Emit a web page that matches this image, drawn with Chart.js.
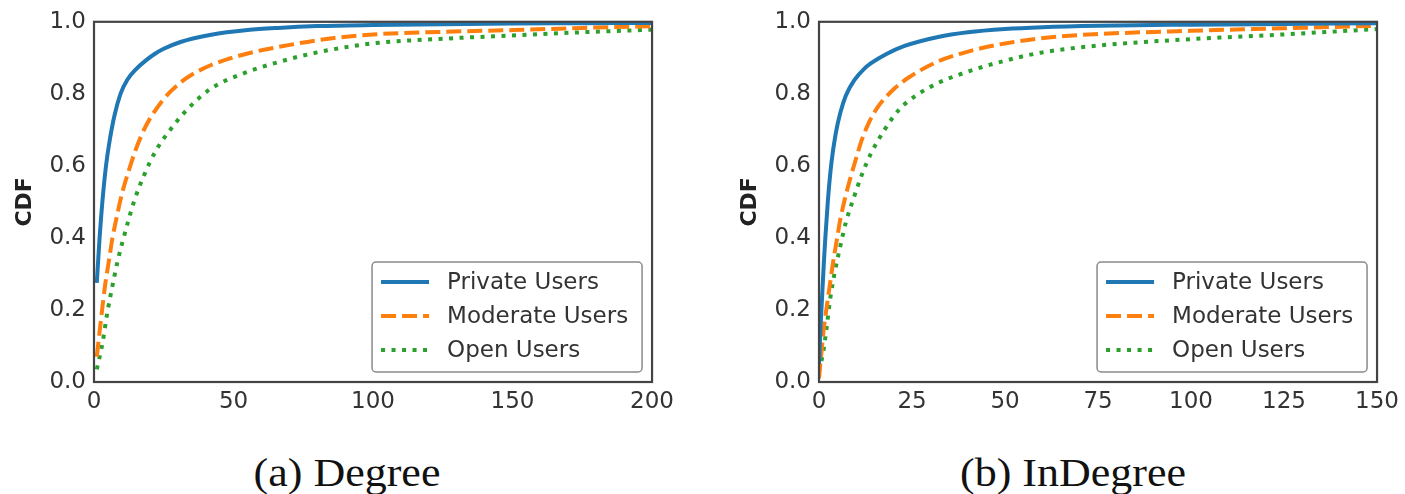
<!DOCTYPE html>
<html>
<head>
<meta charset="utf-8">
<script src="https://cdn.jsdelivr.net/npm/chart.js@4.4.1/dist/chart.umd.min.js"></script>
<style>
  body { margin: 0; background: #fff; width: 1405px; height: 494px; position: relative; overflow: hidden; }
  canvas { position: absolute; top: 0; }
  #chart-degree { left: 0; }
  #chart-indegree { left: 725px; }
  .caption {
    position: absolute; top: 449px; width: 400px; text-align: center;
    font-family: "Liberation Serif", "Times New Roman", serif; font-size: 40px; color: #111;
    transform: scaleX(1.1);
  }
</style>
</head>
<body>
<canvas id="chart-degree" width="680" height="420"></canvas>
<canvas id="chart-indegree" width="680" height="420"></canvas>
<div class="caption" style="left:147px">(a) Degree</div>
<div class="caption" style="left:873px">(b) InDegree</div>
<script>
/* ── data ── */
const SERIES_NAMES = ['Private Users', 'Moderate Users', 'Open Users'];
const SERIES_COLORS = ['#1f77b4', '#ff7f0e', '#2ca02c'];
const SERIES_DASH = [[], [15, 6], [4, 6.5]];

const Y_TICKS = [0, 0.2, 0.4, 0.6, 0.8, 1.0];
const DEGREE_X_TICKS = [0, 50, 100, 150, 200];
const INDEGREE_X_TICKS = [0, 25, 50, 75, 100, 125, 150];

// (a) Degree
const DEG_PRIVATE_X  = [1, 2, 3, 4.3, 5.5, 7.4, 9.5, 12, 15, 18.6, 22, 25, 31, 42, 55, 66, 80, 100, 125, 150, 175, 200];
const DEG_PRIVATE_Y  = [0.275, 0.40, 0.50, 0.60, 0.665, 0.742, 0.80, 0.84, 0.868, 0.893, 0.912, 0.925, 0.944, 0.964, 0.977, 0.983, 0.988, 0.991, 0.993, 0.995, 0.996, 0.997];
const DEG_MODERATE_X = [1, 2.6, 4, 5.6, 6.5, 8.2, 10.1, 13, 14.9, 18.4, 24.6, 30.5, 35, 42, 54, 66, 84, 100, 125, 150, 175, 200];
const DEG_MODERATE_Y = [0.07, 0.18, 0.27, 0.349, 0.395, 0.46, 0.525, 0.6, 0.644, 0.708, 0.782, 0.828, 0.853, 0.88, 0.91, 0.93, 0.953, 0.965, 0.972, 0.977, 0.983, 0.988];
const DEG_OPEN_X     = [1, 3.1, 4.6, 6.4, 8.3, 10.6, 14.5, 18, 22, 27.6, 33.7, 42, 54, 66, 80, 100, 125, 150, 175, 200];
const DEG_OPEN_Y     = [0.035, 0.11, 0.185, 0.259, 0.33, 0.40, 0.505, 0.575, 0.64, 0.703, 0.759, 0.815, 0.858, 0.888, 0.915, 0.94, 0.953, 0.962, 0.971, 0.978];

// (b) InDegree
const INDEG_PRIVATE_X  = [0, 0.4, 0.8, 1.3, 1.7, 2.4, 3.3, 4.5, 5.8, 7.2, 9.5, 12, 14, 18, 23, 32, 40, 50, 60, 75, 100, 125, 150];
const INDEG_PRIVATE_Y  = [0.05, 0.15, 0.23, 0.33, 0.40, 0.505, 0.605, 0.69, 0.75, 0.795, 0.838, 0.868, 0.885, 0.91, 0.933, 0.958, 0.971, 0.98, 0.985, 0.989, 0.992, 0.994, 0.996];
const INDEG_MODERATE_X = [0, 1.2, 2.1, 3, 3.9, 4.8, 5.7, 7, 8.4, 10, 11.5, 13.5, 15.7, 20.2, 24.2, 32, 41, 50, 63, 75, 100, 125, 150];
const INDEG_MODERATE_Y = [0.01, 0.14, 0.21, 0.276, 0.34, 0.395, 0.45, 0.51, 0.565, 0.622, 0.672, 0.722, 0.762, 0.814, 0.846, 0.89, 0.92, 0.94, 0.958, 0.966, 0.975, 0.982, 0.989];
const INDEG_OPEN_X     = [0, 1.2, 2.1, 3, 4.2, 5.7, 7.3, 9.3, 11.5, 14, 17.6, 21.6, 26.2, 32, 41, 50, 60, 75, 100, 125, 150];
const INDEG_OPEN_Y     = [0.03, 0.087, 0.155, 0.23, 0.303, 0.376, 0.446, 0.51, 0.575, 0.635, 0.70, 0.757, 0.796, 0.83, 0.865, 0.892, 0.915, 0.934, 0.952, 0.965, 0.98];

/* ── helpers ── */
const FONT = 'DejaVu Sans';
const TEXT = '#333';

function points(xs, ys) {
  return xs.map((x, i) => ({ x, y: ys[i] }));
}

function makeDatasets(series) {
  return series.map(([xs, ys], i) => ({
    label: SERIES_NAMES[i],
    data: points(xs, ys),
    borderColor: SERIES_COLORS[i],
    borderDash: SERIES_DASH[i],
    borderWidth: 4,
    borderCapStyle: 'butt',
    pointRadius: 0,
    cubicInterpolationMode: 'monotone',
    fill: false,
  }));
}

// frame on all four sides, like matplotlib spines
const framePlugin = {
  id: 'frame',
  afterDatasetsDraw(chart) {
    const { ctx, chartArea: a } = chart;
    ctx.save();
    ctx.strokeStyle = '#444';
    ctx.lineWidth = 2.2;
    ctx.strokeRect(a.left, a.top, a.right - a.left, a.bottom - a.top);
    ctx.restore();
  },
};

// legend box in the lower right corner of the plot area
const boxLegendPlugin = {
  id: 'boxLegend',
  afterDraw(chart) {
    const { ctx, chartArea: a } = chart;
    const w = 270, h = 110;
    const left = a.right - 10 - w;
    const top = a.bottom - 10 - h;
    ctx.save();
    ctx.beginPath();
    ctx.roundRect(left, top, w, h, 4);
    ctx.fillStyle = 'rgba(255,255,255,0.9)';
    ctx.fill();
    ctx.strokeStyle = '#8a8a8a';
    ctx.lineWidth = 1.5;
    ctx.stroke();

    chart.data.datasets.forEach((ds, i) => {
      const y = top + 20 + i * 34;
      ctx.beginPath();
      ctx.setLineDash(ds.borderDash);
      ctx.strokeStyle = ds.borderColor;
      ctx.lineWidth = ds.borderWidth;
      ctx.lineCap = 'butt';
      ctx.moveTo(left + 9, y);
      ctx.lineTo(left + 57, y);
      ctx.stroke();
      ctx.setLineDash([]);
      ctx.fillStyle = TEXT;
      ctx.font = `23px "${FONT}"`;
      ctx.textBaseline = 'middle';
      ctx.fillText(ds.label, left + 75, y + 1);
    });
    ctx.restore();
  },
};

function renderCdf(canvasId, series, xMax, xTicks) {
  const canvas = document.getElementById(canvasId);
  return new Chart(canvas, {
    type: 'line',
    data: { datasets: makeDatasets(series) },
    options: {
      responsive: false,
      animation: false,
      devicePixelRatio: 1,
      layout: { padding: { left: 12, right: 25, top: 21, bottom: 0 } },
      plugins: { legend: { display: false }, tooltip: { enabled: false } },
      scales: {
        x: {
          type: 'linear',
          min: 0,
          max: xMax,
          grid: { display: false, drawTicks: false },
          border: { display: false },
          afterBuildTicks: s => { s.ticks = xTicks.map(v => ({ value: v })); },
          afterFit: s => { s.height = 38; },
          ticks: { color: TEXT, font: { family: FONT, size: 23 }, padding: 6, maxRotation: 0 },
        },
        y: {
          min: 0,
          max: 1,
          grid: { display: false, drawTicks: false },
          border: { display: false },
          afterBuildTicks: s => { s.ticks = Y_TICKS.map(v => ({ value: v })); },
          afterFit: s => { s.width = 82; },
          ticks: { color: TEXT, font: { family: FONT, size: 23 }, padding: 8, callback: v => v.toFixed(1) },
          title: { display: true, text: 'CDF', color: '#222', font: { family: FONT, size: 22, weight: 'bold' }, padding: 0 },
        },
      },
    },
    plugins: [framePlugin, boxLegendPlugin],
  });
}

renderCdf('chart-degree', [
  [DEG_PRIVATE_X, DEG_PRIVATE_Y],
  [DEG_MODERATE_X, DEG_MODERATE_Y],
  [DEG_OPEN_X, DEG_OPEN_Y],
], 200, DEGREE_X_TICKS);

renderCdf('chart-indegree', [
  [INDEG_PRIVATE_X, INDEG_PRIVATE_Y],
  [INDEG_MODERATE_X, INDEG_MODERATE_Y],
  [INDEG_OPEN_X, INDEG_OPEN_Y],
], 150, INDEGREE_X_TICKS);
</script>
</body>
</html>
